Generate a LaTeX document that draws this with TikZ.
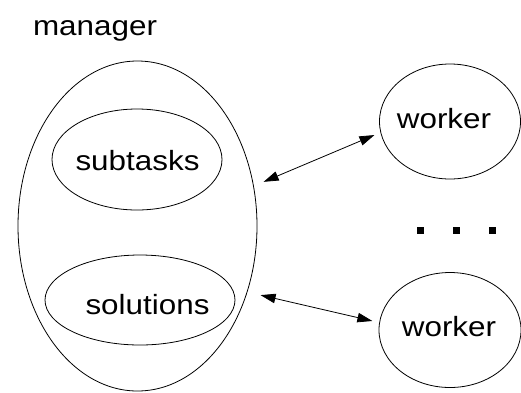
\documentclass[tikz,border=0pt]{standalone}
\usepackage{fontspec}
\setmainfont{Liberation Sans}
\usetikzlibrary{shapes.geometric,arrows.meta}
\newcommand{\wide}[1]{\scalebox{1.13}[1]{#1}}
\begin{document}
\begin{tikzpicture}[x=1pt,y=-1pt,line width=0.8pt,
  oval/.style={draw,ellipse,inner sep=0pt},
  lbl/.style={anchor=base,inner sep=0pt,font=\fontsize{27.8}{30}\selectfont},
  dot/.style={fill,inner sep=0pt,minimum size=7pt},
  link/.style={{Triangle[length=15pt,width=9.5pt]}-{Triangle[length=15pt,width=9.5pt]}}]
\useasboundingbox (0,0) rectangle (521,392);
% manager
\node[lbl] (mlabel) at (95,35.5) {\wide{manager}};
\node[oval,minimum width=239pt,minimum height=330pt] (mgr) at (137.5,226) {};
\node[oval,minimum width=170pt,minimum height=101pt] (sub) at (137,159.5) {};
\node[lbl] (subt) at (137.5,170.7) {\wide{subtasks}};
\node[oval,minimum width=190pt,minimum height=90pt] (sol) at (140,300) {};
\node[lbl] (solt) at (147.5,314) {\wide{solutions}};
% workers
\node[oval,minimum width=141pt,minimum height=115pt] (w1) at (450,121.5) {};
\node[lbl] (w1t) at (444,128.3) {\wide{worker}};
\node[oval,minimum width=142pt,minimum height=115pt] (w2) at (450,330) {};
\node[lbl] (w2t) at (449,336.7) {\wide{worker}};
% dots
\node[dot] (d1) at (420.5,230.5) {};
\node[dot] (d2) at (456.5,230.5) {};
\node[dot] (d3) at (492.5,230.5) {};
% connectors
\draw[link,shorten <=10.6pt,shorten >=6.5pt] (mgr.19.5) -- (w1.189);
\draw[link,shorten <=13.5pt,shorten >=7pt] (mgr.-31.1) -- (w2.174);
\end{tikzpicture}
\end{document}
